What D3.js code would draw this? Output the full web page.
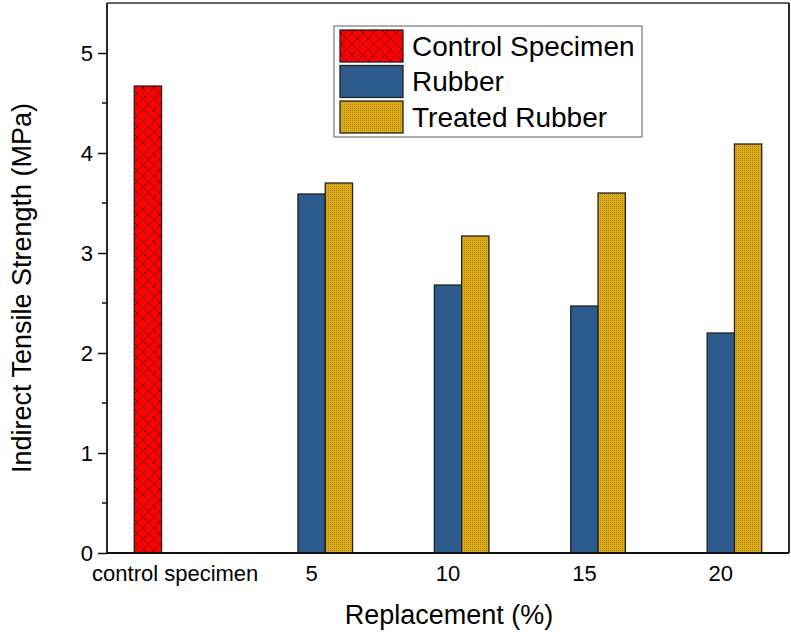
<!doctype html>
<html>
<head>
<script src="https://d3js.org/d3.v7.min.js"></script>
<style>
body { margin: 0; background: #fff; }
text { font-family: "Liberation Sans", Arial, sans-serif; fill: #000; }
</style>
</head>
<body>
<svg width="791" height="632" id="chart"></svg>
<script>
var categories = ["control specimen", "5", "10", "15", "20"];
var seriesNames = ["Control Specimen", "Rubber", "Treated Rubber"];
var controlValues = [4.67, null, null, null, null];
var rubberValues = [null, 3.59, 2.68, 2.47, 2.20];
var treatedValues = [null, 3.70, 3.17, 3.60, 4.09];
var yTicks = [0, 1, 2, 3, 4, 5];

var svg = d3.select("#chart");
var plotL = 107, plotR = 789, plotT = 3, plotB = 553;

// patterns
var defs = svg.append("defs");
var hatch = defs.append("pattern").attr("id", "hatch")
  .attr("patternUnits", "userSpaceOnUse").attr("width", 11).attr("height", 11);
hatch.append("rect").attr("width", 11).attr("height", 11).attr("fill", "#ff0000");
hatch.append("path").attr("d", "M0,0L11,11M11,0L0,11")
  .attr("stroke", "#6a0000").attr("stroke-width", 1).attr("stroke-opacity", 0.75);
var dots = defs.append("pattern").attr("id", "dots")
  .attr("patternUnits", "userSpaceOnUse").attr("width", 2).attr("height", 2);
dots.append("rect").attr("width", 2).attr("height", 2).attr("fill", "#dcab1c");
dots.append("rect").attr("width", 1).attr("height", 1).attr("fill", "#b98c10");

var fills = ["url(#hatch)", "#2d5b8d", "url(#dots)"];
var barW = 27.3;

var x = d3.scaleBand().domain(categories).range([plotL, plotR]).padding(0);
var y = d3.scaleLinear().domain([0, 5.5]).range([plotB, plotT]);

var allSeries = [controlValues, rubberValues, treatedValues];

// bars
allSeries.forEach(function(vals, s) {
  svg.append("g").selectAll("rect")
    .data(vals.map(function(v, i) { return {c: categories[i], v: v}; }).filter(function(d) { return d.v !== null; }))
    .enter().append("rect")
    .attr("x", function(d) { return x(d.c) + x.bandwidth() / 2 + (s - 1.5) * barW; })
    .attr("y", function(d) { return y(d.v); })
    .attr("width", barW)
    .attr("height", function(d) { return y(0) - y(d.v); })
    .attr("fill", fills[s])
    .attr("stroke", "#222")
    .attr("stroke-width", 1.3);
});

// frame
svg.append("line").attr("x1", plotL).attr("x2", plotR).attr("y1", plotT).attr("y2", plotT)
  .attr("stroke", "#333").attr("stroke-width", 1.5);
svg.append("line").attr("x1", plotR).attr("x2", plotR).attr("y1", plotT).attr("y2", plotB)
  .attr("stroke", "#111").attr("stroke-width", 1.8);

// y axis
var yAxis = d3.axisLeft(y).tickValues(yTicks).tickSize(9).tickPadding(5).tickFormat(d3.format("d"));
var gy = svg.append("g").attr("transform", "translate(" + plotL + ",0)").call(yAxis);
gy.select(".domain").attr("stroke", "#111").attr("stroke-width", 1.8).attr("d", "M0," + plotT + "V" + plotB);
gy.selectAll(".tick line").attr("stroke", "#111").attr("stroke-width", 1.5);
gy.selectAll("text").style("font-size", "22px").attr("dy", "0.35em");
var minor = [0.5, 1.5, 2.5, 3.5, 4.5];
gy.selectAll(".minor").data(minor).enter().append("line")
  .attr("x1", -5).attr("x2", 0)
  .attr("y1", function(d) { return y(d); }).attr("y2", function(d) { return y(d); })
  .attr("stroke", "#111").attr("stroke-width", 1.5);

// x axis
var xAxis = d3.axisBottom(x).tickSize(0).tickPadding(12);
var gx = svg.append("g").attr("transform", "translate(0," + plotB + ")").call(xAxis);
gx.select(".domain").attr("stroke", "#111").attr("stroke-width", 1.8).attr("d", "M" + plotL + ",0H" + plotR);
gx.selectAll("text").style("font-size", "22px");

// titles
svg.append("text").attr("x", 449).attr("y", 624).attr("text-anchor", "middle")
  .style("font-size", "27px").text("Replacement (%)");
svg.append("text").attr("transform", "translate(31,288) rotate(-90)").attr("text-anchor", "middle")
  .style("font-size", "27px").text("Indirect Tensile Strength (MPa)");

// legend
var lg = svg.append("g");
lg.append("rect").attr("x", 334).attr("y", 26).attr("width", 308).attr("height", 111)
  .attr("fill", "#fff").attr("stroke", "#777").attr("stroke-width", 1.2);
seriesNames.forEach(function(name, i) {
  var yy = 30 + i * 35.5;
  lg.append("rect").attr("x", 340).attr("y", yy).attr("width", 63).attr("height", 32)
    .attr("fill", fills[i]).attr("stroke", "#222").attr("stroke-width", 1.3);
  lg.append("text").attr("x", 412).attr("y", yy + 16).attr("dy", "0.35em")
    .style("font-size", "28px").text(name);
});
</script>
</body>
</html>
